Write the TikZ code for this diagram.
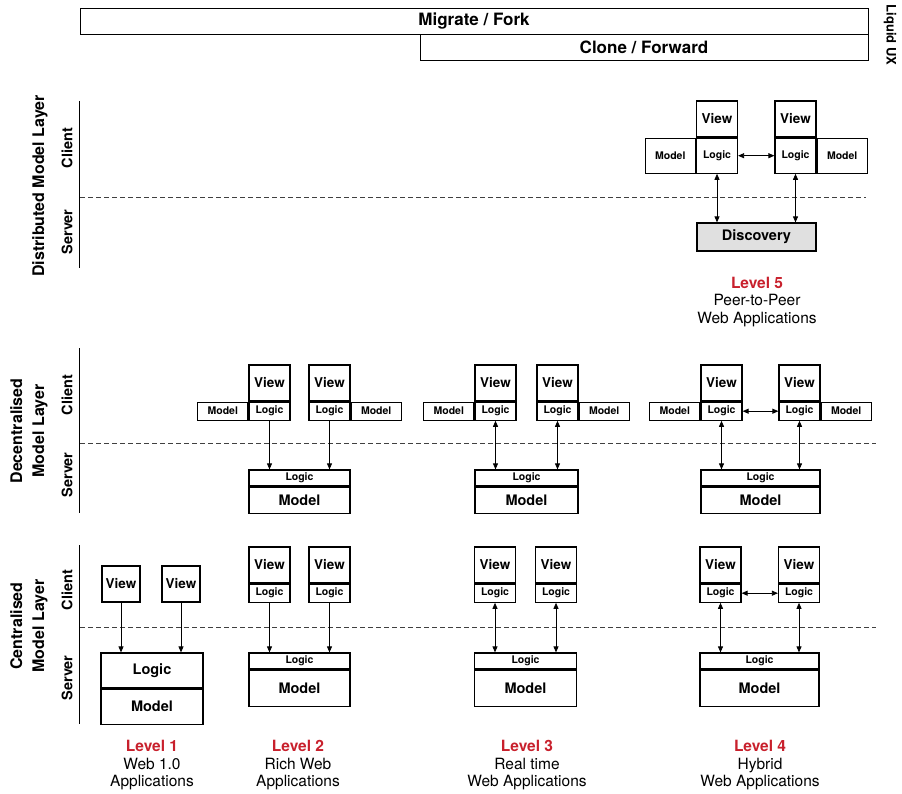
\documentclass[tikz,border=0pt]{standalone}
\usepackage{fontspec}
\setmainfont{TeX Gyre Heros}
\usepackage{tikz}
\usetikzlibrary{
	positioning,
	arrows.meta
}
\definecolor{levelred}{RGB}{200,32,44}
\tikzset{
	cell/.style={draw, line width=1.2pt, inner sep=0pt, font=\bfseries\fontsize{10.5}{12}\selectfont},
	view/.style={cell, minimum width=41pt, minimum height=36pt, font=\bfseries\fontsize{13.5}{15}\selectfont},
	part/.style={cell, minimum width=41pt, minimum height=18pt},
	wide/.style={part, minimum width=50pt},
	srvlogic/.style={cell, minimum height=16pt},
	srvmodel/.style={cell, minimum height=26pt, font=\bfseries\fontsize{14.5}{16}\selectfont},
	bar/.style={draw, line width=0.8pt, inner sep=0pt, minimum height=26pt, font=\bfseries\fontsize{17}{20}\selectfont},
	layer/.style={rotate=90, align=center, inner sep=0pt, font=\bfseries\fontsize{16}{22}\selectfont},
	tier/.style={rotate=90, inner sep=0pt, font=\bfseries\fontsize{14.5}{16}\selectfont},
	level/.style={anchor=north, align=center, inner sep=0pt, font=\fontsize{15.5}{17.5}\selectfont},
	divider/.style={line width=0.8pt, black!75, dash pattern=on 5pt off 3pt},
	link/.style={line width=0.8pt, -{Triangle[length=6pt,width=5pt]}},
	both/.style={line width=0.8pt, {Triangle[length=6pt,width=5pt]}-{Triangle[length=6pt,width=5pt]}}
}
\newcommand{\lvl}[1]{\textcolor{levelred}{\bfseries #1}}

\begin{document}
\begin{tikzpicture}[x=1pt,y=-1pt]
	\useasboundingbox (0,0) rectangle (902,794);

	\node[bar, minimum width=788pt] (mig) at (474,21) {Migrate / Fork};
	\node[bar, minimum width=448pt] (clo) at (644,47) {Clone / Forward};
	\node[rotate=-90, inner sep=0pt, font=\bfseries\fontsize{13}{15}\selectfont] (liq) at (890,35) {Liquid UX};

	\draw[line width=0.8pt] (79,101) -- (79,268);
	\draw[line width=0.8pt] (79,348) -- (79,513);
	\draw[line width=0.8pt] (79,545) -- (79,724);
	\draw[divider] (80,197) -- (866,197);
	\draw[divider] (80,443) -- (876,443);
	\draw[divider] (80,627) -- (876,627);

	\node[layer] (dist) at (40,186) {Distributed Model Layer};
	\node[layer] (dece) at (29,431) {Decentralised\\Model Layer};
	\node[layer] (cent) at (29,626) {Centralised\\Model Layer};
	\node[tier] (dc) at (67,148) {Client};
	\node[tier] (ds) at (67,232) {Server};
	\node[tier] (ec) at (67,395) {Client};
	\node[tier] (es) at (67,475) {Server};
	\node[tier] (cc) at (67,590) {Client};
	\node[tier] (cs) at (67,678) {Server};

	\node[view] (p5v1) at (717,119) {View};
	\node[part, minimum height=35pt, below=0pt of p5v1] (p5l1) {Logic};
	\node[wide, minimum height=35pt, left=0pt of p5l1] (p5m1) {Model};
	\node[view] (p5v2) at (795.5,119) {View};
	\node[part, minimum height=35pt, below=0pt of p5v2] (p5l2) {Logic};
	\node[wide, minimum height=35pt, right=0pt of p5l2] (p5m2) {Model};
	\node[cell, fill=black!12, minimum width=119pt, minimum height=28pt,
		font=\bfseries\fontsize{14.5}{16}\selectfont] (disc) at (756.5,237) {Discovery};
	\draw[both] (p5l1.south) -- (p5l1.south |- disc.north);
	\draw[both] (p5l2.south) -- (p5l2.south |- disc.north);
	\draw[both] (p5l1.east) -- (p5l2.west);

	\node[view] (d2v1) at (269.5,383) {View};
	\node[part, below=0pt of d2v1] (d2l1) {Logic};
	\node[wide, left=0pt of d2l1] (d2m1) {Model};
	\node[view] (d2v2) at (329.5,383) {View};
	\node[part, below=0pt of d2v2] (d2l2) {Logic};
	\node[wide, right=0pt of d2l2] (d2m2) {Model};
	\node[srvlogic, minimum width=101pt] (d2s) at (299.5,478) {Logic};
	\node[srvmodel, minimum width=101pt, below=0pt of d2s] (d2sm) {Model};
	\draw[link] (d2l1.south) -- (d2l1.south |- d2s.north);
	\draw[link] (d2l2.south) -- (d2l2.south |- d2s.north);

	\node[view] (d3v1) at (495.5,383) {View};
	\node[part, below=0pt of d3v1] (d3l1) {Logic};
	\node[wide, left=0pt of d3l1] (d3m1) {Model};
	\node[view] (d3v2) at (557.5,383) {View};
	\node[part, below=0pt of d3v2] (d3l2) {Logic};
	\node[wide, right=0pt of d3l2] (d3m2) {Model};
	\node[srvlogic, minimum width=103pt] (d3s) at (526.5,478) {Logic};
	\node[srvmodel, minimum width=103pt, below=0pt of d3s] (d3sm) {Model};
	\draw[both] (d3l1.south) -- (d3l1.south |- d3s.north);
	\draw[both] (d3l2.south) -- (d3l2.south |- d3s.north);

	\node[view] (d4v1) at (721.5,383) {View};
	\node[part, below=0pt of d4v1] (d4l1) {Logic};
	\node[wide, left=0pt of d4l1] (d4m1) {Model};
	\node[view] (d4v2) at (799.5,383) {View};
	\node[part, below=0pt of d4v2] (d4l2) {Logic};
	\node[wide, right=0pt of d4l2] (d4m2) {Model};
	\node[srvlogic, minimum width=119pt] (d4s) at (760.5,478) {Logic};
	\node[srvmodel, minimum width=119pt, below=0pt of d4s] (d4sm) {Model};
	\draw[both] (d4l1.south) -- (d4l1.south |- d4s.north);
	\draw[both] (d4l2.south) -- (d4l2.south |- d4s.north);
	\draw[both] (d4l1.east) -- (d4l2.west);

	\node[view, minimum width=38pt] (c1v1) at (121,584) {View};
	\node[view, minimum width=38pt] (c1v2) at (181,584) {View};
	\node[srvmodel, minimum width=102pt, minimum height=35pt] (c1s) at (152,670.5) {Logic};
	\node[srvmodel, minimum width=102pt, minimum height=35pt, below=0pt of c1s] (c1sm) {Model};
	\draw[link] (c1v1.south) -- (c1v1.south |- c1s.north);
	\draw[link] (c1v2.south) -- (c1v2.south |- c1s.north);

	\node[view] (c2v1) at (269.5,565) {View};
	\node[part, below=0pt of c2v1] (c2l1) {Logic};
	\node[view] (c2v2) at (329.5,565) {View};
	\node[part, below=0pt of c2v2] (c2l2) {Logic};
	\node[srvlogic, minimum width=101pt] (c2s) at (299.5,661) {Logic};
	\node[srvmodel, minimum width=101pt, minimum height=36pt, below=0pt of c2s] (c2sm) {Model};
	\draw[link] (c2l1.south) -- (c2l1.south |- c2s.north);
	\draw[link] (c2l2.south) -- (c2l2.south |- c2s.north);

	\node[view] (c3v1) at (495,565) {View};
	\node[part, below=0pt of c3v1] (c3l1) {Logic};
	\node[view] (c3v2) at (556,565) {View};
	\node[part, below=0pt of c3v2] (c3l2) {Logic};
	\node[srvlogic, minimum width=102pt] (c3s) at (525.5,661) {Logic};
	\node[srvmodel, minimum width=102pt, minimum height=36pt, below=0pt of c3s] (c3sm) {Model};
	\draw[both] (c3l1.south) -- (c3l1.south |- c3s.north);
	\draw[both] (c3l2.south) -- (c3l2.south |- c3s.north);

	\node[view] (c4v1) at (720.5,565) {View};
	\node[part, below=0pt of c4v1] (c4l1) {Logic};
	\node[view] (c4v2) at (799,565) {View};
	\node[part, below=0pt of c4v2] (c4l2) {Logic};
	\node[srvlogic, minimum width=119pt] (c4s) at (759.5,661) {Logic};
	\node[srvmodel, minimum width=119pt, minimum height=36pt, below=0pt of c4s] (c4sm) {Model};
	\draw[both] (c4l1.south) -- (c4l1.south |- c4s.north);
	\draw[both] (c4l2.south) -- (c4l2.south |- c4s.north);
	\draw[both] (c4l1.east) -- (c4l2.west);

	\node[level] (lv1) at (152,740) {\lvl{Level 1}\\Web 1.0\\Applications};
	\node[level] (lv2) at (298,740) {\lvl{Level 2}\\Rich Web\\Applications};
	\node[level] (lv3) at (527,740) {\lvl{Level 3}\\Real time\\Web Applications};
	\node[level] (lv4) at (760,740) {\lvl{Level 4}\\Hybrid\\Web Applications};
	\node[level] (lv5) at (757,277) {\lvl{Level 5}\\Peer-to-Peer\\Web Applications};
\end{tikzpicture}
\end{document}
